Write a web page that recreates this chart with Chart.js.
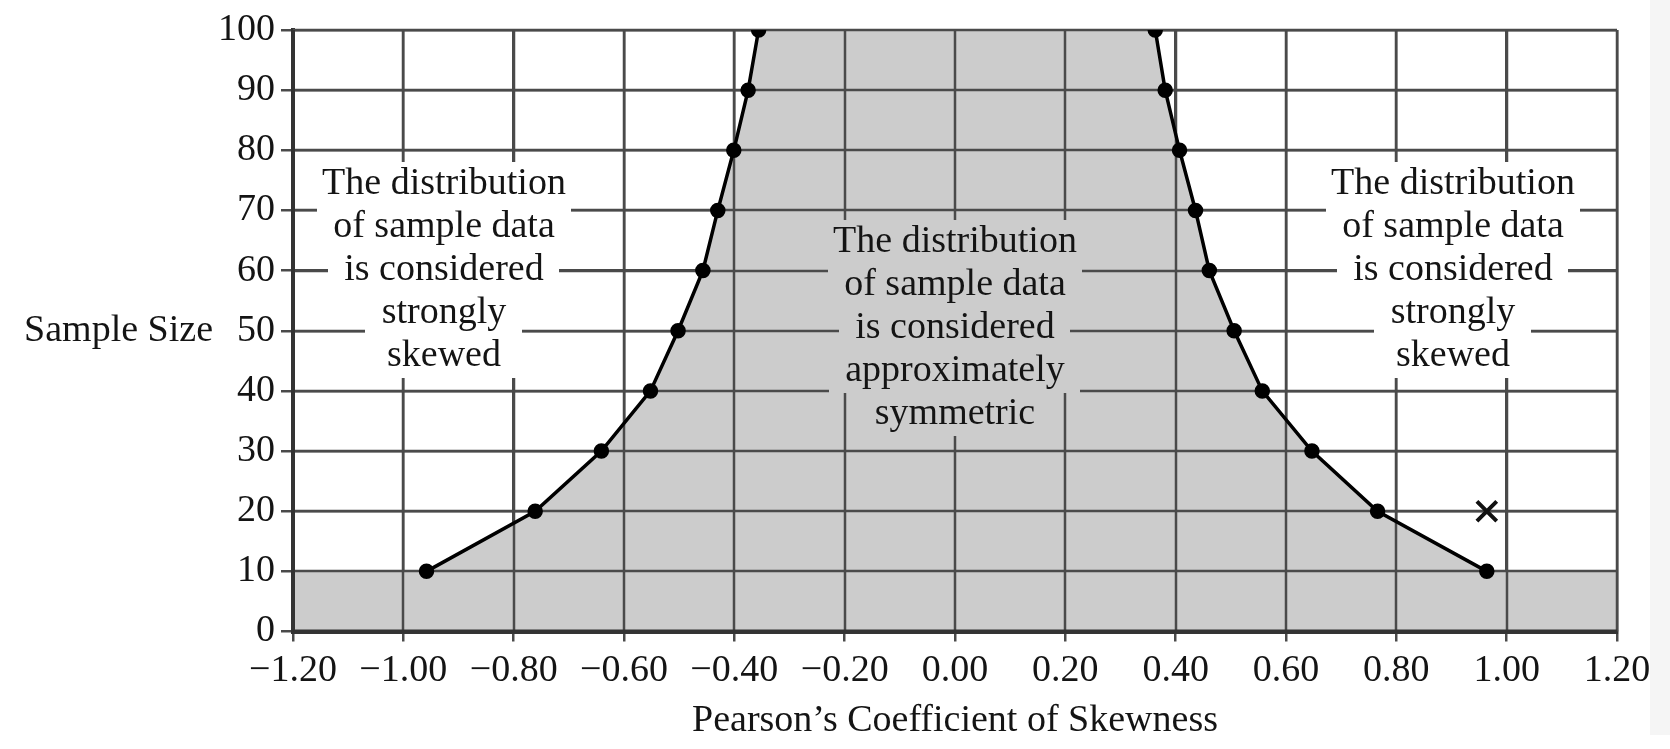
<!DOCTYPE html>
<html>
<head>
<meta charset="utf-8">
<script src="https://cdn.jsdelivr.net/npm/chart.js@4.4.1/dist/chart.umd.min.js"></script>
<style>
  html, body { margin: 0; padding: 0; background: #fff; }
  #wrap { width: 1670px; height: 749px; }
</style>
</head>
<body>
<div id="wrap"><canvas id="myChart" width="1670" height="749"></canvas></div>
<script>
// values
const sampleSizes = [10, 20, 30, 40, 50, 60, 70, 80, 90, 100]
const lowerLimits = [-0.958, -0.761, -0.641, -0.552, -0.502, -0.457, -0.430, -0.401, -0.375, -0.356]
const upperLimits = [0.964, 0.766, 0.647, 0.557, 0.506, 0.461, 0.436, 0.407, 0.381, 0.363]
const markX = [0.964]
const markY = [20]

const xTickValues = [-1.2, -1.0, -0.8, -0.6, -0.4, -0.2, 0, 0.2, 0.4, 0.6, 0.8, 1.0, 1.2]
const xTickLabels = ['\u22121.20', '\u22121.00', '\u22120.80', '\u22120.60', '\u22120.40', '\u22120.20',
  '0.00', '0.20', '0.40', '0.60', '0.80', '1.00', '1.20']
const yTickValues = [0, 10, 20, 30, 40, 50, 60, 70, 80, 90, 100]

const noteSkewed = ['The distribution', 'of sample data', 'is considered', 'strongly', 'skewed']
const noteSymmetric = ['The distribution', 'of sample data', 'is considered', 'approximately', 'symmetric']

const xTitle = 'Pearson\u2019s Coefficient of Skewness'
const yTitle = 'Sample Size'

const FONT = '"Liberation Serif", "Times New Roman", serif'
const GRID = '#4a4a4a'
const AXIS = '#333'
const SHADE = '#cccccc'
const TEXT = '#141414'

const toPoints = (xs, ys) => xs.map((v, i) => ({ x: v, y: ys[i] }))

const getShadePoints = () => {
  const left = toPoints(lowerLimits, sampleSizes)
  const right = toPoints(upperLimits, sampleSizes).reverse()
  const base = sampleSizes[0]
  return [{ x: xTickValues[0], y: base }, ...left, ...right, { x: xTickValues[xTickValues.length - 1], y: base }]
}

const notes = [
  { x: -0.927, y: 74.4, lines: noteSkewed, bg: '#ffffff' },
  { x: 0, y: 64.7, lines: noteSymmetric, bg: SHADE },
  { x: 0.903, y: 74.4, lines: noteSkewed, bg: '#ffffff' }
]

const line = (ctx, x1, y1, x2, y2) => {
  ctx.beginPath()
  ctx.moveTo(x1, y1)
  ctx.lineTo(x2, y2)
  ctx.stroke()
}

// grid again on top of the shading, then the text boxes
const overlay = {
  id: 'overlay',
  beforeDraw(chart) {
    const ctx = chart.ctx
    ctx.save()
    ctx.fillStyle = '#f5f5f5'
    ctx.fillRect(chart.width - 20, 0, 20, chart.height - 14)
    ctx.restore()
  },
  afterDatasetDraw(chart, args) {
    if (args.meta.order !== 5) return
    const { ctx, chartArea: a, scales: { x, y } } = chart
    ctx.save()
    ctx.strokeStyle = GRID
    ctx.lineWidth = 2.5
    x.ticks.forEach(t => {
      const px = Math.round(x.getPixelForValue(t.value))
      line(ctx, px, a.top, px, a.bottom)
    })
    y.ticks.forEach(t => {
      const py = Math.round(y.getPixelForValue(t.value))
      line(ctx, a.left, py, a.right, py)
    })
    ctx.strokeStyle = AXIS
    ctx.lineWidth = 4
    line(ctx, a.left, a.top, a.left, a.bottom + 2)
    line(ctx, a.left - 2, a.bottom, a.right, a.bottom)

    ctx.font = '38px ' + FONT
    ctx.textAlign = 'center'
    ctx.textBaseline = 'middle'
    for (const note of notes) {
      const cx = Math.round(x.getPixelForValue(note.x))
      const cy = Math.round(y.getPixelForValue(note.y))
      note.lines.forEach((txt, i) => {
        const ly = cy + i * 43
        const w = Math.round(ctx.measureText(txt).width)
        ctx.fillStyle = note.bg
        ctx.fillRect(cx - Math.round(w / 2) - 16, ly - 22, w + 32, 44)
        ctx.fillStyle = TEXT
        ctx.fillText(txt, cx, ly)
      })
    }
    ctx.restore()
  },
  afterDraw(chart) {
    const { ctx, chartArea: a } = chart
    ctx.save()
    ctx.font = '38px ' + FONT
    ctx.fillStyle = TEXT
    ctx.textAlign = 'right'
    ctx.textBaseline = 'middle'
    ctx.fillText(yTitle, a.left - 80, (a.top + a.bottom) / 2)
    ctx.restore()
  }
}

const ctx = document.getElementById('myChart')
new Chart(ctx, {
  type: 'scatter',
  data: {
    datasets: [
      {
        data: toPoints(markX, markY),
        pointStyle: 'crossRot',
        pointRadius: 14,
        pointBorderWidth: 4,
        borderColor: '#111',
        backgroundColor: '#111',
        order: 0
      },
      {
        data: toPoints(lowerLimits, sampleSizes),
        showLine: true,
        borderColor: '#000',
        borderWidth: 3.5,
        pointRadius: 6,
        pointBackgroundColor: '#000',
        pointBorderColor: '#000',
        order: 1
      },
      {
        data: toPoints(upperLimits, sampleSizes),
        showLine: true,
        borderColor: '#000',
        borderWidth: 3.5,
        pointRadius: 6,
        pointBackgroundColor: '#000',
        pointBorderColor: '#000',
        order: 1
      },
      {
        data: getShadePoints(),
        showLine: true,
        fill: 'origin',
        backgroundColor: SHADE,
        borderColor: 'rgba(0,0,0,0)',
        borderWidth: 0,
        pointRadius: 0,
        order: 5
      }
    ]
  },
  options: {
    responsive: false,
    animation: false,
    devicePixelRatio: 1,
    layout: { padding: { top: 30, right: 53, bottom: 0, left: 0 } },
    plugins: {
      legend: { display: false },
      tooltip: { enabled: false }
    },
    scales: {
      x: {
        type: 'linear',
        min: -1.2,
        max: 1.2,
        afterBuildTicks: s => { s.ticks = xTickValues.map(v => ({ value: v })) },
        afterFit: s => { s.height = 117.5 },
        ticks: {
          autoSkip: false,
          maxRotation: 0,
          padding: 7,
          color: TEXT,
          font: { family: FONT, size: 38 },
          callback: (v, i) => xTickLabels[i]
        },
        grid: { color: GRID, lineWidth: 2.5, tickLength: 10 },
        border: { color: AXIS, width: 4 },
        title: {
          display: true,
          text: xTitle,
          color: TEXT,
          font: { family: FONT, size: 38 },
          padding: { top: 0, bottom: 5 }
        }
      },
      y: {
        min: 0,
        max: 100,
        afterBuildTicks: s => { s.ticks = yTickValues.map(v => ({ value: v })) },
        afterFit: s => { s.width = 293 },
        ticks: {
          padding: 6,
          color: TEXT,
          font: { family: FONT, size: 38 }
        },
        grid: { color: GRID, lineWidth: 2.5, tickLength: 12 },
        border: { color: AXIS, width: 4 }
      }
    }
  },
  plugins: [overlay]
})
</script>
</body>
</html>
